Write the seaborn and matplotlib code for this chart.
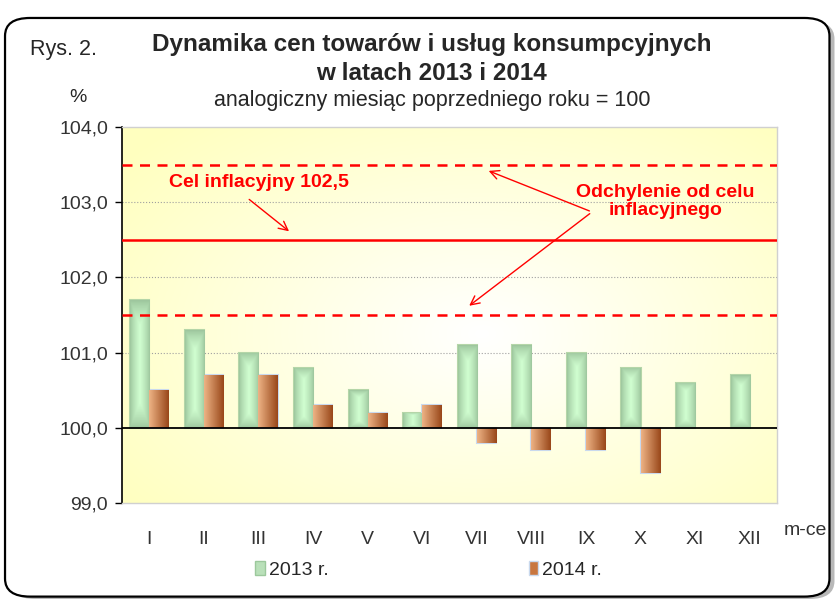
import numpy as np
import pandas as pd
import matplotlib
matplotlib.use("Agg")
import matplotlib.pyplot as plt
import seaborn as sns
from matplotlib.patches import FancyBboxPatch, Patch
from matplotlib.ticker import FuncFormatter, MultipleLocator

# Dane
miesiace = ['I', 'II', 'III', 'IV', 'V', 'VI', 'VII', 'VIII', 'IX', 'X', 'XI', 'XII']
rok_2013 = [101.7, 101.3, 101.0, 100.8, 100.5, 100.2, 101.1, 101.1, 101.0, 100.8, 100.6, 100.7]
rok_2014 = [100.5, 100.7, 100.7, 100.3, 100.2, 100.3, 99.8, 99.7, 99.7, 99.4, np.nan, np.nan]
serie = ['2013 r.', '2014 r.']
cel = 102.5
odchylenie = 1.0
baza = 100.0

df = pd.DataFrame({'miesiac': miesiace * 2,
                   'seria': [serie[0]] * 12 + [serie[1]] * 12,
                   'wartosc': rok_2013 + rok_2014})
df['odchylenie'] = df['wartosc'] - baza

sns.set_style("white")
plt.rcParams['font.family'] = ['Liberation Sans', 'DejaVu Sans']

fig = plt.figure(figsize=(8.37, 5.99), dpi=100)
fig.patch.set_facecolor('white')

# ramka z cieniem
fig.patches.append(FancyBboxPatch((0.012, 0.0), 0.985, 0.965, boxstyle="round,pad=0,rounding_size=0.03",
                                  transform=fig.transFigure, facecolor='#b8b8b8', edgecolor='none', zorder=0))
fig.patches.append(FancyBboxPatch((0.006, 0.004), 0.985, 0.966, boxstyle="round,pad=0,rounding_size=0.03",
                                  transform=fig.transFigure, facecolor='white', edgecolor='black', lw=1.6, zorder=1))

ax = fig.add_axes([0.1458, 0.1603, 0.7825, 0.6277])
ax.set_zorder(2)

sns.barplot(data=df, x='miesiac', y='odchylenie', hue='seria', order=miesiace, hue_order=serie,
            palette=['#b9e0b9', '#c8763f'], width=0.7, ax=ax, legend=False)

ax.set_ylim(-1, 4)
xl = ax.get_xlim()

# tło - gradient
ny, nx = 200, 300
yy, xx = np.mgrid[0:1:ny*1j, 0:1:nx*1j]
r = np.sqrt(((xx - 0.55) / 0.7) ** 2 + ((yy - 0.45) / 0.75) ** 2)
r = np.clip(r, 0, 1)
zolty = np.array([1.0, 1.0, 0.75])
bialy = np.array([1.0, 1.0, 1.0])
tlo = bialy * (1 - r[..., None]) + zolty * r[..., None]
ax.imshow(tlo, extent=[0, 1, 0, 1], transform=ax.transAxes, aspect='auto', zorder=0, origin='lower')

# gradienty słupków
def grad_zielony():
    u = np.linspace(0, 1, 40)
    v = np.linspace(0, 1, 80)
    U, V = np.meshgrid(u, v)
    t = 1 - np.abs(2 * U - 1)
    s = 1 - np.abs(2 * V - 1)
    m = np.clip(np.minimum(t, s * 2.5), 0, 1) ** 0.8
    c1 = np.array([0.62, 0.78, 0.62])
    c2 = np.array([0.82, 1.0, 0.82])
    return c1 * (1 - m[..., None]) + c2 * m[..., None]

def grad_brazowy():
    u = np.linspace(0, 1, 40)
    U = np.tile(u, (10, 1))
    c1 = np.array([0.93, 0.70, 0.52])
    c2 = np.array([0.60, 0.28, 0.10])
    return c1 * (1 - U[..., None]) + c2 * U[..., None]

gradienty = [grad_zielony(), grad_brazowy()]
krawedzie = ['#b5d6a8', '#c9d9ee']
for cont, g, ec in zip(ax.containers, gradienty, krawedzie):
    for p in cont:
        h = p.get_height()
        if np.isnan(h) or h == 0:
            continue
        x0, y0, w = p.get_x(), p.get_y(), p.get_width()
        p.set_edgecolor(ec)
        p.set_linewidth(1.5)
        p.set_zorder(3)
        im = ax.imshow(g, extent=[x0, x0 + w, min(y0, y0 + h), max(y0, y0 + h)], aspect='auto',
                       zorder=3.1, origin='lower')
        im.set_clip_path(p)

ax.set_xlim(xl)
ax.set_ylim(-1, 4)

# linie
ax.axhline(0, color='black', lw=1.3, zorder=4)
ax.axhline(cel - baza, color='red', lw=1.8, zorder=4)
ax.axhline(cel + odchylenie - baza, color='red', lw=1.8, ls=(0, (4, 3)), zorder=4)
ax.axhline(cel - odchylenie - baza, color='red', lw=1.8, ls=(0, (4, 3)), zorder=4)
for yv in [1, 2, 3]:
    ax.axhline(yv, color='#a0a0a0', lw=0.8, ls=':', zorder=1)

# osie
ax.yaxis.set_major_locator(MultipleLocator(1))
ax.yaxis.set_major_formatter(FuncFormatter(lambda v, pos: f"{v + baza:.1f}".replace('.', ',')))
ax.tick_params(axis='y', direction='out', length=5, width=1, color='black', labelsize=14, pad=5, left=True)
ax.tick_params(axis='x', length=0, labelsize=14, pad=20)
ax.set_xlabel('')
ax.set_ylabel('')
for s in ['top', 'right', 'bottom']:
    ax.spines[s].set_color('#d0d0d0')
    ax.spines[s].set_linewidth(1)
ax.spines['left'].set_color('black')
ax.spines['left'].set_linewidth(1.2)
for lab in ax.get_yticklabels() + ax.get_xticklabels():
    lab.set_color('#333333')

# adnotacje
strzalka = dict(arrowstyle='->', color='red', lw=1, mutation_scale=16)
ax.text(0.36, 3.26, 'Cel inflacyjny 102,5', color='red', fontsize=14, fontweight='bold', va='center', ha='left')
ax.annotate('', xy=(2.6, 2.59), xytext=(1.79, 3.06), arrowprops=strzalka)
ax.text(9.45, 3.01, 'Odchylenie od celu\ninflacyjnego', color='red', fontsize=14, fontweight='bold',
        ha='center', va='center', linespacing=1.1)
ax.annotate('', xy=(6.17, 3.43), xytext=(8.11, 2.87), arrowprops=strzalka)
ax.annotate('', xy=(5.82, 1.6), xytext=(8.11, 2.87), arrowprops=strzalka)

# tytuły
fig.text(0.516, 0.925, 'Dynamika cen towarów i usług konsumpcyjnych', ha='center', va='center',
         fontsize=17.5, fontweight='bold')
fig.text(0.516, 0.878, 'w latach 2013 i 2014', ha='center', va='center', fontsize=17.5, fontweight='bold')
fig.text(0.516, 0.832, 'analogiczny miesiąc poprzedniego roku = 100', ha='center', va='center', fontsize=15.5)
fig.text(0.036, 0.918, 'Rys. 2.', ha='left', va='center', fontsize=15.5)
fig.text(0.093, 0.838, '%', ha='center', va='center', fontsize=14)
fig.text(0.962, 0.115, 'm-ce', ha='center', va='center', fontsize=14, color='#333333')

# legenda
uchwyty = [Patch(facecolor='#b9e0b9', edgecolor='#9cc89c'), Patch(facecolor='#c8763f', edgecolor='#c9d9ee')]
fig.legend(uchwyty, serie, loc='center', bbox_to_anchor=(0.512, 0.048), ncol=2, frameon=False,
           fontsize=14, handlelength=0.5, handleheight=0.7, handletextpad=0.2, columnspacing=10.3)

plt.savefig('out.png', dpi=100)
